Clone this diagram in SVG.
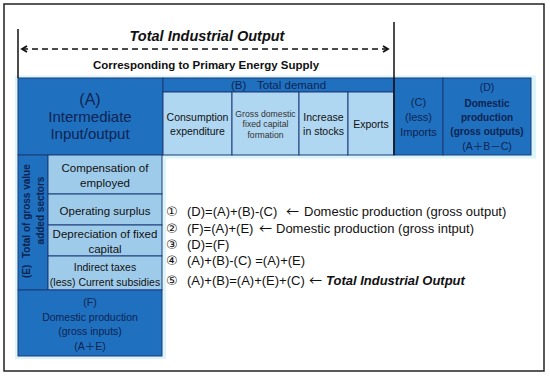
<svg xmlns="http://www.w3.org/2000/svg" width="550" height="376" viewBox="0 0 550 376">
<defs>
<style>
.t{font-family:"Liberation Sans",Arial,"Noto Sans CJK JP",sans-serif;}
.dk{fill:#2070c0;stroke:#1c3d7a;stroke-width:1;}
.lt{fill:#b0d7f1;stroke:#1c3d7a;stroke-width:1;}
.lt2{fill:#9fcbea;stroke:#1c3d7a;stroke-width:1;}
.nv{fill:#0c2450;}
.bk{fill:#111;}
.c{text-anchor:middle;}
.ar{font-family:"Noto Sans CJK JP",sans-serif;}
.cn{font-family:"DejaVu Sans","Noto Sans CJK JP",sans-serif;font-size:13px;}
</style>
<marker id="ah" viewBox="0 0 8 8" refX="6" refY="4" markerWidth="8" markerHeight="8" markerUnits="userSpaceOnUse" orient="auto-start-reverse">
<path d="M1,1 L6,4 L1,7" fill="none" stroke="#111" stroke-width="1.8"/>
</marker>
</defs>
<rect x="4" y="4" width="540" height="367" fill="#fff" stroke="#222" stroke-width="1.5"/>
<rect x="15" y="75.5" width="521" height="83" fill="#dcf5fa"/>
<rect x="15" y="153" width="151" height="206" fill="#dcf5fa"/>

<g id="header">
<text class="t bk c" x="207" y="41" font-size="14.5" font-weight="bold" font-style="italic">Total Industrial Output</text>
<text class="t bk c" x="206" y="69" font-size="11.5" font-weight="bold">Corresponding to Primary Energy Supply</text>
</g>

<g id="nodeA">
<rect class="dk" x="18" y="78" width="145" height="77"/>
<text class="t nv c" font-size="15"><tspan x="90" y="105" font-size="16">(A)</tspan><tspan x="90" y="122">Intermediate</tspan><tspan x="90" y="139">Input/output</tspan></text>
</g>
<g id="nodeB">
<rect class="dk" x="163" y="78" width="231" height="14"/>
<text class="t nv" font-size="11.5" y="88.5"><tspan x="231">(B)</tspan><tspan x="257">Total demand</tspan></text>
</g>
<g id="nodeB1">
<rect class="lt" x="163" y="92" width="69" height="63"/>
<text class="t bk c" font-size="10.5"><tspan x="197.5" y="121">Consumption</tspan><tspan x="197.5" y="135">expenditure</tspan></text>
</g>
<g id="nodeB2">
<rect class="lt" x="232" y="92" width="67" height="63"/>
<text class="t c" fill="#333" font-size="8.7"><tspan x="265.5" y="116.5">Gross domestic</tspan><tspan x="265.5" y="127">fixed capital</tspan><tspan x="265.5" y="137.5">formation</tspan></text>
</g>
<g id="nodeB3">
<rect class="lt" x="299" y="92" width="49" height="63"/>
<text class="t bk c" font-size="10.5"><tspan x="323.5" y="121">Increase</tspan><tspan x="323.5" y="135">in stocks</tspan></text>
</g>
<g id="nodeB4">
<rect class="lt" x="348" y="92" width="46" height="63"/>
<text class="t bk c" font-size="10.5" x="371" y="128">Exports</text>
</g>
<g id="nodeC">
<rect class="dk" x="394" y="78" width="49" height="77"/>
<text class="t nv c" font-size="11"><tspan x="418.5" y="106">(C)</tspan><tspan x="418.5" y="121">(less)</tspan><tspan x="418.5" y="136">Imports</tspan></text>
</g>
<g id="nodeD">
<rect class="dk" x="443" y="78" width="88" height="77"/>
<text class="t nv c" font-size="10.5"><tspan x="487" y="91">(D)</tspan></text>
<text class="t nv c" font-size="10" font-weight="bold"><tspan x="487" y="106.5">Domestic</tspan><tspan x="487" y="120.5">production</tspan><tspan x="487" y="134.5">(gross outputs)</tspan></text>
<text class="t nv c" font-size="10.5" x="487" y="149.5">(A＋B－C)</text>
</g>
<g id="nodeE">
<rect class="dk" x="18" y="155" width="30" height="135"/>
<text class="t nv" font-size="10" font-weight="bold" transform="rotate(-90)"><tspan x="-278" y="30">(E)</tspan><tspan x="-258" y="30">Total of gross value</tspan></text>
<text class="t nv c" font-size="10" font-weight="bold" transform="rotate(-90)" x="-210.5" y="44">added sectors</text>
</g>
<g id="nodeE1">
<rect class="lt2" x="48" y="155" width="114" height="39"/>
<text class="t bk c" font-size="11.5"><tspan x="105" y="172">Compensation of</tspan><tspan x="105" y="187">employed</tspan></text>
</g>
<g id="nodeE2">
<rect class="lt2" x="48" y="194" width="114" height="31"/>
<text class="t bk c" font-size="11.5" x="105" y="215">Operating surplus</text>
</g>
<g id="nodeE3">
<rect class="lt2" x="48" y="225" width="114" height="31"/>
<text class="t bk c" font-size="11.5"><tspan x="105" y="237.5">Depreciation of fixed</tspan><tspan x="105" y="253">capital</tspan></text>
</g>
<g id="nodeE4">
<rect class="lt2" x="48" y="256" width="114" height="34"/>
<text class="t bk c" font-size="10.5"><tspan x="105" y="271">Indirect taxes</tspan><tspan x="105" y="285.5">(less) Current subsidies</tspan></text>
</g>
<g id="nodeF">
<rect class="dk" x="18" y="290" width="144" height="66"/>
<text class="t nv c" font-size="10.5"><tspan x="90" y="305.5">(F)</tspan><tspan x="90" y="320.5">Domestic production</tspan><tspan x="90" y="335">(gross inputs)</tspan><tspan x="90" y="350">(A＋E)</tspan></text>
</g>

<g id="connectors">
<line x1="18" y1="29" x2="18" y2="78" stroke="#111" stroke-width="1.5"/>
<line x1="394" y1="22" x2="394" y2="155" stroke="#111" stroke-width="1.5"/>
<line x1="22" y1="49" x2="388" y2="49" stroke="#111" stroke-width="1.6" stroke-dasharray="6,4" marker-start="url(#ah)" marker-end="url(#ah)"/>
</g>

<g id="equations" class="t" font-size="13" fill="#111">
<text y="216"><tspan x="166" class="cn">①</tspan><tspan x="187">(D)=(A)+(B)-(C)</tspan><tspan x="286" class="ar">←</tspan><tspan x="304">Domestic production (gross output)</tspan></text>
<text y="232.5"><tspan x="166" class="cn">②</tspan><tspan x="187">(F)=(A)+(E)</tspan><tspan x="259" class="ar">←</tspan><tspan x="276">Domestic production (gross intput)</tspan></text>
<text y="248.5"><tspan x="166" class="cn">③</tspan><tspan x="187">(D)=(F)</tspan></text>
<text y="264.5"><tspan x="166" class="cn">④</tspan><tspan x="187">(A)+(B)-(C) =(A)+(E)</tspan></text>
<text y="284.5"><tspan x="166" class="cn">⑤</tspan><tspan x="187">(A)+(B)=(A)+(E)+(C)</tspan><tspan x="309" class="ar">←</tspan><tspan x="326" font-weight="bold" font-style="italic">Total Industrial Output</tspan></text>
</g>
</svg>
